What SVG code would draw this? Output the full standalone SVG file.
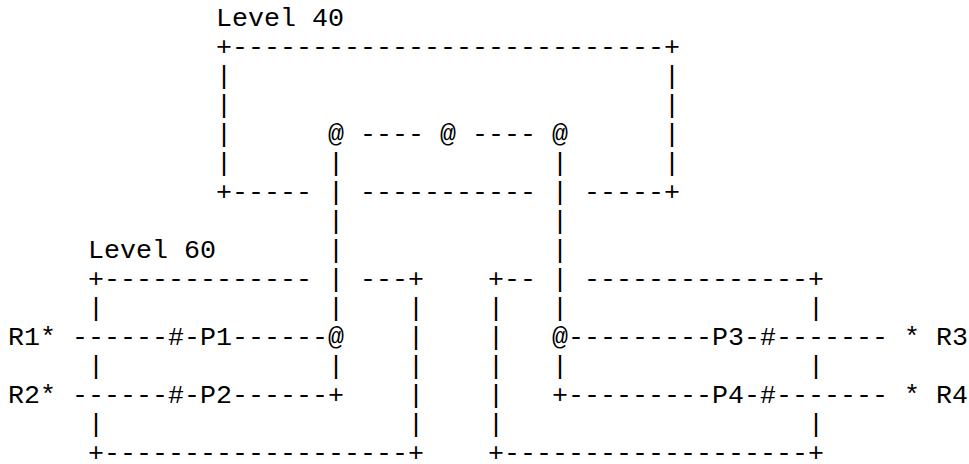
<svg xmlns="http://www.w3.org/2000/svg" width="969" height="464" viewBox="0 0 969 464">
<style>
text{font-family:"Liberation Mono","Courier New",monospace;font-size:26.667px;fill:#000;white-space:pre}
</style>
<rect width="969" height="464" fill="#fff"/>
<g id="level40">
<text x="216" y="26">Level 40</text>
<text x="216" y="55">+---------------------------+</text>
<text x="216" y="84">|</text><text x="664" y="84">|</text>
<text x="216" y="113">|</text><text x="664" y="113">|</text>
<text x="216" y="142">|</text><text x="664" y="142">|</text>
<text x="216" y="171">|</text><text x="664" y="171">|</text>
<text x="216" y="200">+-----</text><text x="360" y="200">-----------</text><text x="584" y="200">-----+</text>
</g>
<g id="level60-left">
<text x="88" y="258">Level 60</text>
<text x="88" y="287">+-------------</text><text x="360" y="287">---+</text>
<text x="88" y="316">|</text><text x="408" y="316">|</text>
<text x="408" y="345">|</text>
<text x="88" y="374">|</text><text x="408" y="374">|</text>
<text x="408" y="403">|</text>
<text x="88" y="432">|</text><text x="408" y="432">|</text>
<text x="88" y="461">+-------------------+</text>
</g>
<g id="level60-right">
<text x="488" y="287">+--</text><text x="584" y="287">--------------+</text>
<text x="488" y="316">|</text><text x="808" y="316">|</text>
<text x="488" y="345">|</text>
<text x="488" y="374">|</text><text x="808" y="374">|</text>
<text x="488" y="403">|</text>
<text x="488" y="432">|</text><text x="808" y="432">|</text>
<text x="488" y="461">+-------------------+</text>
</g>
<g id="R1"><text x="8" y="345">R1*</text></g>
<g id="R2"><text x="8" y="403">R2*</text></g>
<g id="R3"><text x="904" y="345">* R3</text></g>
<g id="R4"><text x="904" y="403">* R4</text></g>
<g id="connectors">
<text x="328" y="142">@ ---- @ ---- @</text>
<text x="328" y="171">|</text><text x="552" y="171">|</text>
<text x="328" y="200">|</text><text x="552" y="200">|</text>
<text x="328" y="229">|</text><text x="552" y="229">|</text>
<text x="328" y="258">|</text><text x="552" y="258">|</text>
<text x="328" y="287">|</text><text x="552" y="287">|</text>
<text x="328" y="316">|</text><text x="552" y="316">|</text>
<text x="72" y="345">------#-P1------@</text>
<text x="552" y="345">@---------P3-#-------</text>
<text x="328" y="374">|</text><text x="552" y="374">|</text>
<text x="72" y="403">------#-P2------+</text>
<text x="552" y="403">+---------P4-#-------</text>
</g>
</svg>
